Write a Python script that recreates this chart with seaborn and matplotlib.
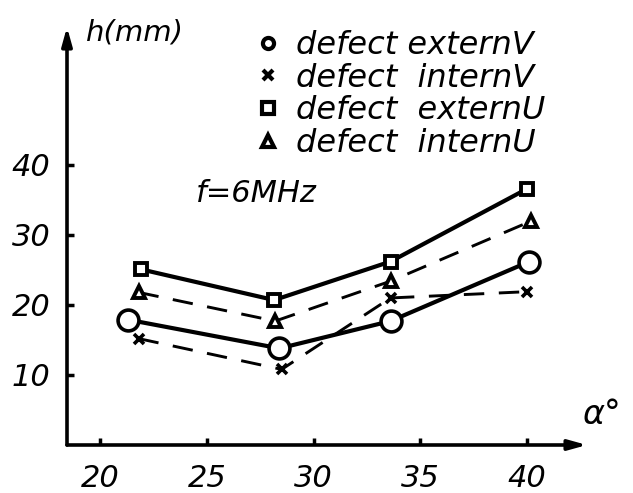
import matplotlib
matplotlib.use("Agg")
import matplotlib.pyplot as plt
import seaborn as sns
import pandas as pd
from matplotlib.lines import Line2D

# ---- data ----
x_extern_v = [21.3, 28.4, 33.6, 40.1]
h_extern_v = [17.9, 13.8, 17.7, 26.2]
x_intern_v = [21.8, 28.5, 33.6, 40.0]
h_intern_v = [15.2, 10.8, 21.0, 21.9]
x_extern_u = [21.9, 28.15, 33.6, 40.0]
h_extern_u = [25.1, 20.7, 26.2, 36.6]
x_intern_u = [21.8, 28.2, 33.6, 40.2]
h_intern_u = [21.8, 17.7, 23.4, 32.0]

labels = ["defect externV", "defect  internV", "defect  externU", "defect  internU"]
x_ticks = [20, 25, 30, 35, 40]
y_ticks = [10, 20, 30, 40]

sns.set_theme(style="white")
plt.rcParams["font.family"] = ["DejaVu Sans"]
plt.rcParams["text.color"] = "black"
plt.rcParams["xtick.color"] = "black"
plt.rcParams["ytick.color"] = "black"

W, H = 633, 493
fig = plt.figure(figsize=(W / 100, H / 100), dpi=100)
# axes: x 18.45..42.8 -> px 67..587 ; y 0..59.7 -> px 445..27
ax = fig.add_axes([67 / W, (H - 445) / H, 520 / W, (445 - 27) / H])
ax.set_xlim(18.45, 42.8)
ax.set_ylim(0, 59.7)

series = [
    (x_extern_v, h_extern_v, "o", "-", 15, 2.6, 3.0),
    (x_intern_v, h_intern_v, "x", (0, (7, 5)), 7, 2.6, 2.1),
    (x_extern_u, h_extern_u, "s", "-", 9, 2.8, 3.0),
    (x_intern_u, h_intern_u, "^", (0, (7, 5)), 9, 2.8, 2.1),
]
for (xs, ys, mk, ls, ms, mew, lw), lab in zip(series, labels):
    df = pd.DataFrame({"alpha": xs, "h": ys})
    sns.lineplot(data=df, x="alpha", y="h", ax=ax, color="black", marker=mk,
                 linestyle=ls, linewidth=lw, markersize=ms, markeredgewidth=mew,
                 markerfacecolor="white", markeredgecolor="black", sort=False,
                 legend=False)

for s in ax.spines.values():
    s.set_visible(False)

# axis arrows
ax.annotate("", xy=(42.8, 0), xytext=(18.45, 0), xycoords="data",
            arrowprops=dict(arrowstyle="-|>,head_length=0.9,head_width=0.25",
                            lw=2.6, color="black", shrinkA=0, shrinkB=0))
ax.annotate("", xy=(18.45, 59.7), xytext=(18.45, 0), xycoords="data",
            arrowprops=dict(arrowstyle="-|>,head_length=0.9,head_width=0.25",
                            lw=2.6, color="black", shrinkA=0, shrinkB=0))

ax.set_xticks(x_ticks)
ax.set_yticks(y_ticks)
ax.set_xticklabels([str(v) for v in x_ticks], fontstyle="italic", fontsize=22)
ax.set_yticklabels([str(v) for v in y_ticks], fontstyle="italic", fontsize=22)
ax.tick_params(axis="both", direction="in", length=5, width=2.5, color="black",
               labelcolor="black", bottom=True, left=True)
ax.tick_params(axis="x", pad=14)
ax.tick_params(axis="y", pad=12)
ax.set_xlabel("")
ax.set_ylabel("")
ax.grid(False)

fig.text(86 / W, 1 - 40 / H, "h(mm)", fontsize=21, fontstyle="italic",
         ha="left", va="baseline")
fig.text(582 / W, 1 - 414 / H, "α°", fontsize=24, fontstyle="italic",
         ha="left", va="center")
fig.text(196 / W, 1 - 193 / H, "f=6MHz", fontsize=22, fontstyle="italic",
         ha="left", va="center")

handles = [
    Line2D([], [], color="black", marker="o", linestyle="none", markersize=8,
           markeredgewidth=3, markerfacecolor="white"),
    Line2D([], [], color="black", marker="x", linestyle="none", markersize=7,
           markeredgewidth=3),
    Line2D([], [], color="black", marker="s", linestyle="none", markersize=8,
           markeredgewidth=3, markerfacecolor="white"),
    Line2D([], [], color="black", marker="^", linestyle="none", markersize=9,
           markeredgewidth=3, markerfacecolor="white"),
]
leg = fig.legend(handles, labels, loc="upper left",
                 bbox_to_anchor=(258 / W, 1 - 30 / H), frameon=False,
                 borderpad=0, borderaxespad=0, handlelength=0.6,
                 handletextpad=0.6, labelspacing=0.05,
                 prop={"size": 23, "style": "italic"})
for t in leg.get_texts():
    t.set_color("black")

fig.savefig("out.png", dpi=100)
